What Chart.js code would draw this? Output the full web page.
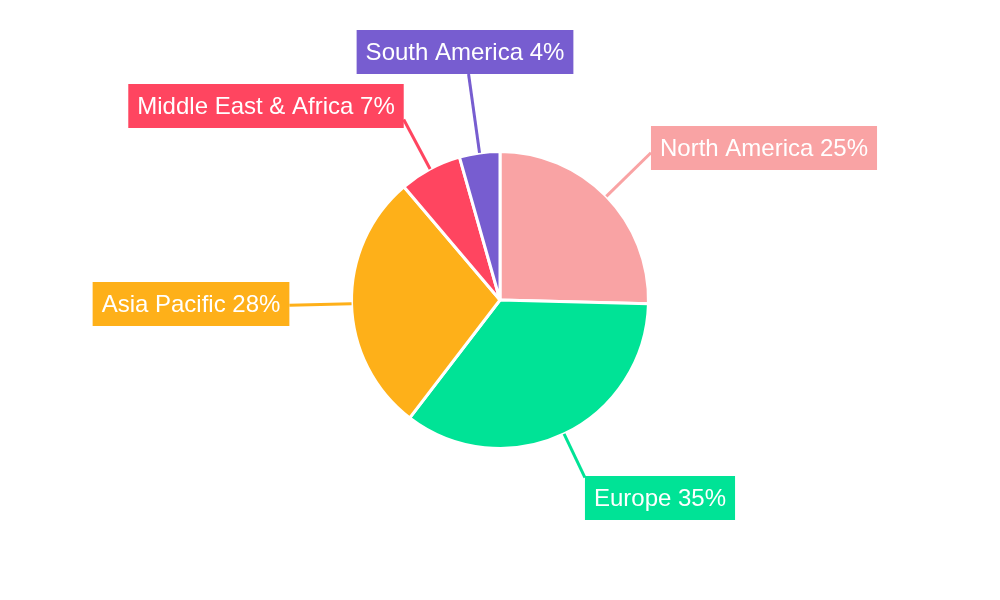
<!DOCTYPE html>
<html>
<head>
<meta charset="utf-8">
<script src="https://cdn.jsdelivr.net/npm/chart.js@4.4.0/dist/chart.umd.min.js"></script>
<style>
    html, body { margin: 0; padding: 0; background: #fff; }
    #wrap { width: 1000px; height: 600px; }
</style>
</head>
<body>
<div id="wrap"><canvas id="chart"></canvas></div>
<script>
const regions = ["North America", "Europe", "Asia Pacific", "Middle East & Africa", "South America"];
const shares = [25.4, 35.0, 28.4, 6.8, 4.4];
const colors = ["#f9a3a4", "#00e396", "#feb019", "#ff4560", "#775dd0"];

// label box centres, relative to the pie centre
const labelOffsets = [[264, -152], [160, 198], [-309, 4], [-234, -194], [-35, -248]];

// ===== callout labels with leader lines =====
const calloutPlugin = {
    id: "callouts",
    afterDatasetsDraw(chart) {
        const ctx = chart.ctx;
        const meta = chart.getDatasetMeta(0);
        const font = '24px "Liberation Sans", Arial, sans-serif';
        const padX = 9, boxH = 44;

        ctx.save();
        ctx.font = font;

        const items = meta.data.map((arc, i) => {
            const p = arc.getProps(["x", "y", "startAngle", "endAngle", "outerRadius"], true);
            const mid = (p.startAngle + p.endAngle) / 2;
            const ux = Math.cos(mid), uy = Math.sin(mid);
            const text = regions[i] + " " + Math.round(shares[i]) + "%";
            const w = ctx.measureText(text).width + padX * 2;
            const cx = p.x + labelOffsets[i][0];
            const cy = p.y + labelOffsets[i][1];
            const x0 = cx - w / 2, x1 = cx + w / 2, y0 = cy - boxH / 2, y1 = cy + boxH / 2;

            // where the radial ray enters the box
            const tx = Math.min((x0 - p.x) / ux, (x1 - p.x) / ux);
            const ty = Math.min((y0 - p.y) / uy, (y1 - p.y) / uy);
            const t = Math.max(tx, ty);

            return { p, ux, uy, t, text, x0, y0, w, cx, cy, color: colors[i] };
        });

        // leader lines
        items.forEach(it => {
            ctx.beginPath();
            ctx.strokeStyle = it.color;
            ctx.lineWidth = 3;
            ctx.moveTo(it.p.x + it.ux * it.p.outerRadius, it.p.y + it.uy * it.p.outerRadius);
            ctx.lineTo(it.p.x + it.ux * it.t, it.p.y + it.uy * it.t);
            ctx.stroke();
        });

        // boxes + text
        items.forEach(it => {
            ctx.fillStyle = it.color;
            ctx.fillRect(it.x0, it.y0, it.w, boxH);
            ctx.fillStyle = "#ffffff";
            ctx.textAlign = "center";
            ctx.textBaseline = "middle";
            ctx.fillText(it.text, it.cx, it.cy + 1);
        });

        ctx.restore();
    }
};

new Chart(document.getElementById("chart"), {
    type: "pie",
    data: {
        labels: regions,
        datasets: [{
            data: shares,
            backgroundColor: colors,
            borderColor: "#ffffff",
            borderWidth: 3
        }]
    },
    options: {
        responsive: true,
        maintainAspectRatio: false,
        animation: false,
        events: [],
        layout: { padding: { top: 150, bottom: 150, left: 0, right: 0 } },
        plugins: {
            legend: { display: false },
            tooltip: { enabled: false }
        }
    },
    plugins: [calloutPlugin]
});
</script>
</body>
</html>
